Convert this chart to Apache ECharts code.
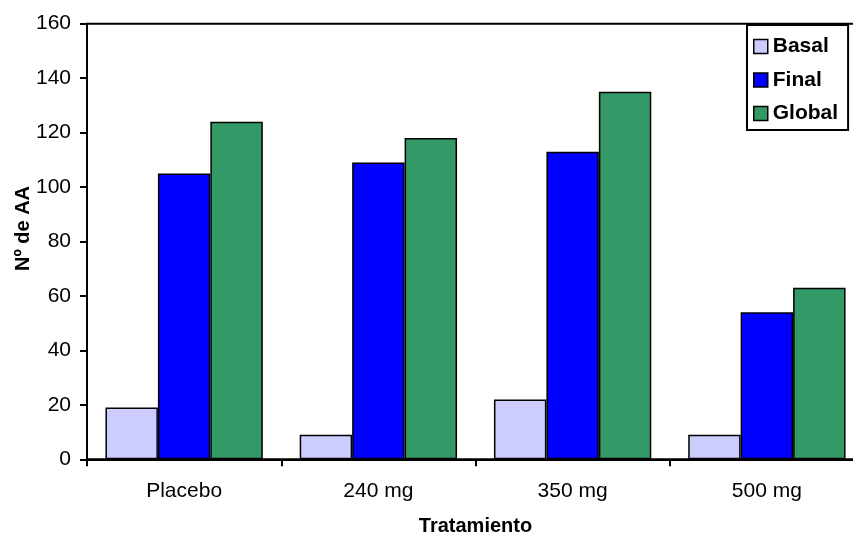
<!DOCTYPE html>
<html><head><meta charset="utf-8">
<style>html,body{margin:0;padding:0;background:#fff}#c{width:853px;height:536px}</style>
<script src="https://cdn.jsdelivr.net/npm/echarts@6/dist/echarts.min.js"></script>
</head><body><div id="c"></div>
<script>
var categories = ['Placebo', '240 mg', '350 mg', '500 mg'];
var basal = [19, 9, 22, 9];
var finalV = [105, 109, 113, 54];
var globalV = [124, 118, 135, 63];
var yTicks = [0, 20, 40, 60, 80, 100, 120, 140, 160];

var chart = echarts.init(document.getElementById('c'), null, {renderer: 'canvas'});
var font = 'Arial, "Liberation Sans", sans-serif';
function bar(name, data, color) {
  return {
    name: name, type: 'bar', data: data,
    barGap: '0%', barCategoryGap: '19%',
    itemStyle: {color: color, borderColor: '#000', borderWidth: 1.5},
    emphasis: {disabled: true}
  };
}
chart.setOption({
  animation: false,
  textStyle: {fontFamily: font},
  grid: {left: 87, top: 23.7, width: 777, height: 435.6, outerBoundsMode: 'none', containLabel: false,
         show: true, borderColor: '#000', borderWidth: 2, backgroundColor: 'transparent'},
  legend: {
    orient: 'vertical', left: 747, top: 25,
    padding: [11, 10, 6, 6], itemGap: 12.5,
    itemWidth: 14, itemHeight: 14, icon: 'rect',
    borderColor: '#000', borderWidth: 2, backgroundColor: '#fff',
    itemStyle: {borderColor: '#000', borderWidth: 1.5},
    textStyle: {fontFamily: font, fontSize: 21, fontWeight: 'bold', color: '#000'},
    selectedMode: false,
    data: ['Basal', 'Final', 'Global']
  },
  xAxis: {
    type: 'category', data: categories,
    name: 'Tratamiento', nameLocation: 'middle', nameGap: 57, nameMoveOverlap: false,
    nameTextStyle: {fontFamily: font, fontSize: 20, fontWeight: 'bold', color: '#000'},
    axisLine: {lineStyle: {color: '#000', width: 2}},
    axisTick: {show: true, alignWithLabel: false, length: 7, lineStyle: {color: '#000', width: 2}},
    axisLabel: {fontFamily: font, fontSize: 21, color: '#000', margin: 21}
  },
  yAxis: {
    type: 'value', min: yTicks[0], max: yTicks[yTicks.length - 1], interval: 20,
    name: 'Nº de AA', nameLocation: 'middle', nameGap: 54, nameMoveOverlap: false,
    nameTextStyle: {fontFamily: font, fontSize: 20, fontWeight: 'bold', color: '#000', padding: [0, 0, 0, 26]},
    axisLine: {show: true, lineStyle: {color: '#000', width: 2}},
    axisTick: {show: true, length: 7, lineStyle: {color: '#000', width: 2}},
    axisLabel: {fontFamily: font, fontSize: 21, color: '#000', margin: 16},
    splitLine: {show: false}
  },
  series: [
    bar('Basal', basal, '#CCCCFF'),
    bar('Final', finalV, '#0000FF'),
    bar('Global', globalV, '#339966')
  ]
});
</script></body></html>
